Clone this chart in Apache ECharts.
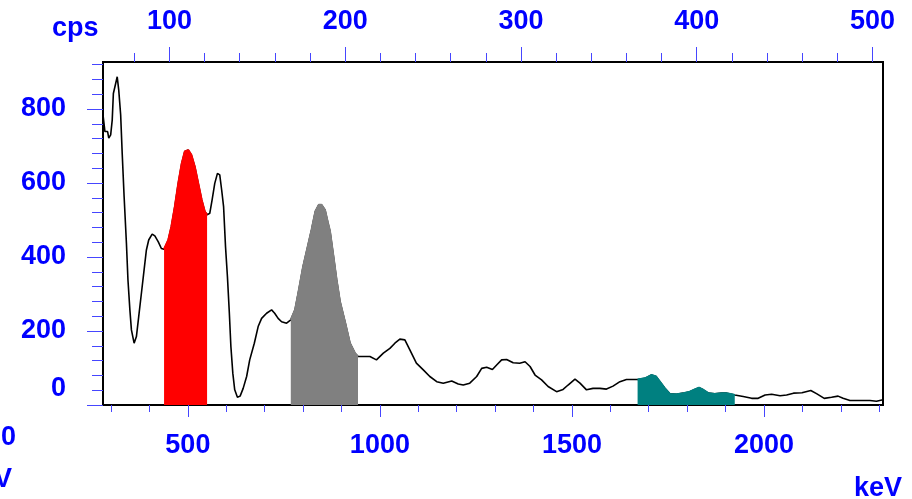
<!DOCTYPE html>
<html lang="en">
<head>
    <meta charset="UTF-8">
    <title>spectrum</title>
    <script src="https://cdn.jsdelivr.net/npm/echarts@6/dist/echarts.min.js"></script>
    <style>body { margin: 0; background: #fff; }</style>
</head>
<body>
<div id="main" style="width: 912px;height: 499px"></div>

<script>
    // energy (keV) and count rate (cps)
    var energy = [279, 284, 291, 294, 299, 303, 306, 312, 316, 320, 325, 329, 334, 340, 344, 349, 353, 360, 366, 372,
        379, 386, 392, 398, 407, 414, 423, 431, 438, 449, 457, 466, 475, 484, 492, 501, 509, 518, 527, 536,
        544, 550, 557, 563, 570, 577, 583, 588, 593, 598, 603, 608, 612, 617, 622, 629, 636, 644, 653, 661,
        673, 683, 692, 705, 718, 726, 735, 744, 757, 768, 779, 789, 800, 812, 822, 832, 841, 848, 857, 865,
        870, 878, 887, 896, 909, 922, 935, 943, 956, 974, 991, 1009, 1026, 1039, 1052, 1065, 1078, 1095, 1113, 1130,
        1148, 1165, 1187, 1204, 1217, 1234, 1252, 1265, 1278, 1293, 1304, 1317, 1330, 1347, 1364, 1378, 1391, 1404, 1421, 1438,
        1460, 1477, 1490, 1508, 1521, 1538, 1555, 1573, 1590, 1607, 1625, 1642, 1671, 1690, 1707, 1719, 1729, 1742, 1755, 1773,
        1790, 1807, 1820, 1831, 1842, 1855, 1872, 1890, 1903, 1916, 1924, 1946, 1968, 1985, 2003, 2020, 2042, 2059, 2077, 2099,
        2122, 2138, 2157, 2176, 2193, 2206, 2224, 2250, 2276, 2293, 2310];
    var cps = [784, 739, 739, 721, 730, 770, 842, 869, 887, 851, 784, 680, 563, 437, 338, 257, 203, 167, 185, 239,
        302, 365, 419, 446, 462, 457, 441, 423, 421, 446, 482, 536, 599, 653, 685, 689, 676, 644, 599, 554,
        523, 514, 518, 554, 599, 626, 622, 581, 536, 428, 347, 248, 158, 86, 41, 21, 24, 45, 77, 122,
        167, 212, 234, 248, 257, 248, 234, 225, 221, 230, 257, 311, 374, 428, 473, 523, 541, 541, 527, 491,
        470, 410, 340, 280, 225, 167, 140, 131, 131, 131, 122, 140, 153, 167, 178, 176, 149, 113, 95, 77,
        63, 59, 65, 57, 54, 59, 77, 99, 102, 96, 108, 122, 123, 114, 113, 117, 104, 81, 68, 50,
        36, 42, 54, 70, 59, 41, 45, 45, 43, 51, 63, 69, 69, 72, 81, 77, 63, 45, 30, 29,
        32, 36, 42, 47, 41, 32, 30, 32, 32, 29, 27, 23, 18, 18, 27, 29, 25, 27, 32, 33,
        39, 30, 18, 21, 24, 18, 12, 12, 12, 10, 14];

    // marked regions (keV)
    var redRegion = [438, 550];
    var grayRegion = [768, 943];
    var tealRegion = [1671, 1924];

    // axis ticks and labels
    var keVLabels = [500, 1000, 1500, 2000];
    var keVTicks = [300, 400, 500, 600, 700, 800, 900, 1000, 1100, 1200, 1300, 1400, 1500, 1600, 1700,
        1800, 1900, 2000, 2100, 2200, 2300];
    var chLabels = [100, 200, 300, 400, 500];
    var chTicks = [80, 100, 120, 140, 160, 180, 200, 220, 240, 260, 280, 300, 320, 340, 360, 380, 400,
        420, 440, 460, 480, 500];
    var cpsLabels = [0, 200, 400, 600, 800];
    var cpsTicks = [0, 40, 80, 120, 160, 200, 240, 280, 320, 360, 400, 440, 480, 520, 560, 600, 640,
        680, 720, 760, 800, 840, 880, 920];

    var blue = '#0000ff';
    var tickBlue = '#4646ff';
    var font = 'Liberation Sans';
    var textFont = 'bold 27px "Liberation Sans"';

    function pairs(lo, hi) {
        var out = [];
        for (var i = 0; i < energy.length; i++) {
            if (energy[i] >= lo && energy[i] <= hi) out.push([energy[i], cps[i]]);
        }
        return out;
    }

    function labelStyle(values, margin) {
        return {
            customValues: values,
            margin: margin,
            color: blue,
            fontSize: 27,
            fontWeight: 'bold',
            fontFamily: font,
            formatter: function (v) { return String(v); }
        };
    }

    function tickStyle(values, len) {
        return {
            customValues: values,
            length: len,
            lineStyle: {color: tickBlue, width: 1}
        };
    }

    function fill(range, color) {
        return {
            type: 'line',
            xAxisIndex: 0,
            yAxisIndex: 0,
            data: pairs(range[0], range[1]),
            symbol: 'none',
            silent: true,
            z: 3,
            lineStyle: {color: color, width: 2},
            areaStyle: {color: color, opacity: 1}
        };
    }

    var myChart = echarts.init(document.getElementById('main'));

    var option = {
        animation: false,
        backgroundColor: '#fff',
        grid: [
            {left: 103, right: 29, top: 62, bottom: 94, show: true, borderColor: '#000', borderWidth: 2},
            {left: 103, right: 29, top: 62, bottom: 94}
        ],
        xAxis: [
            {
                gridIndex: 0, type: 'value', position: 'bottom', min: 279, max: 2310,
                axisLine: {show: false}, splitLine: {show: false},
                axisTick: tickStyle(keVLabels, 12),
                axisLabel: labelStyle(keVLabels, 27)
            },
            {
                gridIndex: 0, type: 'value', position: 'top', min: 62.2, max: 506,
                axisLine: {show: false}, splitLine: {show: false},
                axisTick: tickStyle(chLabels, 15),
                axisLabel: labelStyle(chLabels, 27)
            },
            {
                gridIndex: 1, type: 'value', position: 'bottom', min: 279, max: 2310,
                axisLine: {show: false}, splitLine: {show: false},
                axisTick: tickStyle(keVTicks, 7),
                axisLabel: {show: false}
            },
            {
                gridIndex: 1, type: 'value', position: 'top', min: 62.2, max: 506,
                axisLine: {show: false}, splitLine: {show: false},
                axisTick: tickStyle(chTicks, 9),
                axisLabel: {show: false}
            }
        ],
        yAxis: [
            {
                gridIndex: 0, type: 'value', min: 0, max: 927,
                axisLine: {show: false}, splitLine: {show: false},
                axisTick: tickStyle(cpsLabels, 16),
                axisLabel: Object.assign(labelStyle(cpsLabels, 37), {
                    formatter: function (v) {
                        return v === 0 ? '{z|0}' : String(v);
                    },
                    rich: {
                        z: {padding: [0, 0, 32, 0], color: blue, fontSize: 27, fontWeight: 'bold', fontFamily: font}
                    }
                })
            },
            {
                gridIndex: 1, type: 'value', min: 0, max: 927,
                axisLine: {show: false}, splitLine: {show: false},
                axisTick: tickStyle(cpsTicks, 11),
                axisLabel: {show: false}
            }
        ],
        graphic: [
            {type: 'text', left: 52, top: 15, style: {text: 'cps', fill: blue, font: textFont}},
            {type: 'text', x: 902, y: 489, style: {text: 'keV', fill: blue, font: textFont, align: 'right', verticalAlign: 'middle'}},
            {type: 'text', x: 16, y: 438, style: {text: '0', fill: blue, font: textFont, align: 'right', verticalAlign: 'middle'}},
            {type: 'text', x: 12, y: 480, style: {text: 'keV', fill: blue, font: textFont, align: 'right', verticalAlign: 'middle'}}
        ],
        series: [
            {
                type: 'line',
                xAxisIndex: 0,
                yAxisIndex: 0,
                data: pairs(0, 5000),
                symbol: 'none',
                silent: true,
                z: 2,
                lineStyle: {color: '#000', width: 1.6}
            },
            fill(redRegion, '#ff0000'),
            fill(grayRegion, '#808080'),
            fill(tealRegion, '#008080')
        ]
    };

    myChart.setOption(option);
</script>
</body>
</html>
